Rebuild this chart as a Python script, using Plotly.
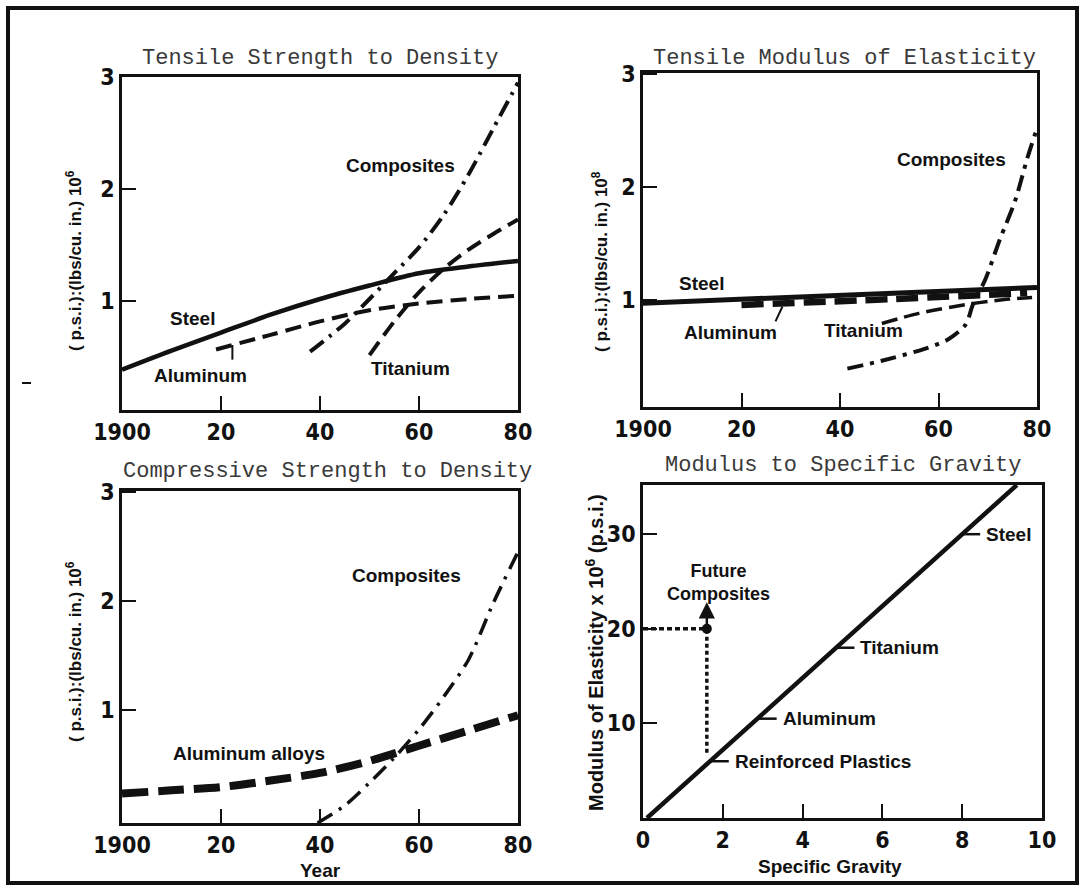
import numpy as np
import plotly.graph_objects as go

# ---------------- data ----------------
# Tensile strength to density, (p.s.i.):(lbs/cu. in.) x 10^6
ts_steel_year = [1900, 1910, 1920, 1930, 1940, 1950, 1960, 1970, 1980]
ts_steel = [0.39, 0.56, 0.72, 0.88, 1.02, 1.14, 1.25, 1.31, 1.36]
ts_alum_year = [1919, 1930, 1940, 1950, 1960, 1970, 1980]
ts_alum = [0.57, 0.70, 0.82, 0.92, 0.98, 1.02, 1.05]
ts_comp_year = [1938, 1945, 1950, 1955, 1960, 1965, 1970, 1975, 1980]
ts_comp = [0.55, 0.80, 1.02, 1.25, 1.48, 1.77, 2.13, 2.54, 2.95]
ts_titan_year = [1950, 1955, 1960, 1965, 1970, 1975, 1980]
ts_titan = [0.52, 0.82, 1.08, 1.29, 1.46, 1.60, 1.73]

# Tensile modulus of elasticity, (p.s.i.):(lbs/cu. in.) x 10^8
tm_steel_year = [1900, 1980]
tm_steel = [0.97, 1.11]
tm_alum_year = [1920, 1950, 1978]
tm_alum = [0.955, 1.005, 1.06]
tm_titan_year = [1948.5, 1956, 1966, 1973, 1979]
tm_titan = [0.79, 0.88, 0.96, 1.00, 1.02]
tm_comp_year = [1941.5, 1948.5, 1957.5, 1962, 1965.5, 1967, 1969.5, 1972.5, 1975.5, 1978, 1980]
tm_comp = [0.39, 0.46, 0.57, 0.65, 0.78, 0.96, 1.18, 1.54, 1.87, 2.25, 2.52]

# Compressive strength to density, (p.s.i.):(lbs/cu. in.) x 10^6
cs_alloy_year = [1900, 1910, 1920, 1930, 1940, 1950, 1960, 1970, 1980]
cs_alloy = [0.23, 0.26, 0.29, 0.35, 0.42, 0.53, 0.67, 0.81, 0.95]
cs_comp_year = [1939.5, 1945, 1950, 1955, 1960, 1965, 1970, 1975, 1980]
cs_comp = [-0.04, 0.12, 0.33, 0.56, 0.82, 1.12, 1.46, 1.98, 2.45]

# Modulus (x 10^6 p.s.i.) against specific gravity
material_names = ["Reinforced Plastics", "Aluminum", "Titanium", "Steel"]
material_sg = [1.7, 2.9, 4.85, 8.0]
material_modulus = [6.0, 10.5, 18.0, 30.0]
trend_sg = [0.1, 9.37]
trend_modulus = [0.0, 35.2]
future_sg = 1.6
future_modulus = 20.0
future_base_modulus = 6.9
future_arrow_tip = 22.8

year_ticks = [1900, 1920, 1940, 1960, 1980]
year_labels = ["1900", "20", "40", "60", "80"]
sg_ticks = [0, 2, 4, 6, 8, 10]
mod_ticks = [10, 20, 30]

# ---------------- styling ----------------
W, H = 1086, 886
INK = "#111111"
TICK_FONT = "Liberation Sans Narrow, Arial Narrow, DejaVu Sans Condensed, sans-serif"
LABEL_FONT = "Liberation Sans, Arial, Helvetica, sans-serif"
TITLE_FONT = "Courier New, Liberation Mono, monospace"


def xdom(left, right):
    return [left / W, right / W]


def ydom(top, bottom):
    return [1 - bottom / H, 1 - top / H]


def axis(domain, rng, tickvals, ticktext=None, anchor=None):
    d = dict(domain=domain, range=rng, tickvals=tickvals,
             showline=True, linecolor=INK, linewidth=2.5, mirror=True,
             ticks="inside", ticklen=14, tickwidth=2, tickcolor=INK,
             showgrid=False, zeroline=False, fixedrange=True, automargin=False,
             tickfont=dict(family=TICK_FONT, size=23, color=INK, weight="bold"),
             anchor=anchor)
    if ticktext is not None:
        d["ticktext"] = ticktext
    return d


fig = go.Figure()


def line(x, y, xa, ya, width, dash="solid", spline=True):
    fig.add_trace(go.Scatter(
        x=x, y=y, xaxis=xa, yaxis=ya, mode="lines", hoverinfo="skip",
        line=dict(color=INK, width=width, dash=dash,
                  shape="spline" if spline else "linear", smoothing=0.8),
        showlegend=False))


# panel 1
line(ts_steel_year, ts_steel, "x", "y", 4.5)
line(ts_alum_year, ts_alum, "x", "y", 4, "16px,8px")
line(ts_comp_year, ts_comp, "x", "y", 4, "17px,7px,3px,7px")
line(ts_titan_year, ts_titan, "x", "y", 4, "16px,8px")
lead1 = 1922.3
v1 = float(np.interp(lead1, ts_alum_year, ts_alum))
line([lead1, lead1], [v1, v1 - 0.13], "x", "y", 2, spline=False)

# panel 2
line(tm_steel_year, tm_steel, "x2", "y2", 5, spline=False)
line(tm_alum_year, tm_alum, "x2", "y2", 6.5, "22px,9px")
line(tm_titan_year, tm_titan, "x2", "y2", 3.5, "16px,7px")
line(tm_comp_year, tm_comp, "x2", "y2", 4, "16px,7px,4px,7px")
lead2 = 1928.3
v2 = float(np.interp(lead2, tm_alum_year, tm_alum))
line([lead2, lead2 - 1.4], [v2 - 0.03, v2 - 0.16], "x2", "y2", 2, spline=False)

# panel 3
line(cs_alloy_year, cs_alloy, "x3", "y3", 8, "26px,10px")
line(cs_comp_year, cs_comp, "x3", "y3", 3.5, "17px,8px,3px,8px")

# panel 4
line(trend_sg, trend_modulus, "x4", "y4", 4.5, spline=False)
tick_x, tick_y = [], []
for sg, m in zip(material_sg, material_modulus):
    tick_x += [sg, sg + 0.45, None]
    tick_y += [m, m, None]
line(tick_x, tick_y, "x4", "y4", 2.5, spline=False)
line([0, future_sg], [future_modulus, future_modulus], "x4", "y4", 3.5, "5px,3px", spline=False)
line([future_sg, future_sg], [future_base_modulus, future_modulus], "x4", "y4", 3.5, "4px,3px", spline=False)
fig.add_trace(go.Scatter(x=[future_sg], y=[future_modulus], xaxis="x4", yaxis="y4",
                         mode="markers", marker=dict(color=INK, size=10),
                         hoverinfo="skip", showlegend=False))

fig.update_layout(
    width=W, height=H, autosize=False,
    margin=dict(l=0, r=0, t=0, b=0, pad=0),
    paper_bgcolor="white", plot_bgcolor="white",
    showlegend=False,
    xaxis=axis(xdom(122, 518), [1900, 1980], year_ticks, year_labels, "y"),
    yaxis=axis(ydom(77, 410), [0.03, 3.0], [1, 2, 3], anchor="x"),
    xaxis2=axis(xdom(643, 1037), [1900, 1980], year_ticks, year_labels, "y2"),
    yaxis2=axis(ydom(73, 407), [0.05, 3.01], [1, 2, 3], anchor="x2"),
    xaxis3=axis(xdom(122, 518), [1900, 1980], year_ticks, year_labels, "y3"),
    yaxis3=axis(ydom(491, 823), [-0.04, 3.01], [1, 2, 3], anchor="x3"),
    xaxis4=axis(xdom(643, 1042), [0, 10], sg_ticks, [str(v) for v in sg_ticks], "y4"),
    yaxis4=axis(ydom(485, 818), [0, 35.2], mod_ticks, [str(v) for v in mod_ticks], "x4"),
)

annotations = []


def note(text, x, y, size=19, font=LABEL_FONT, weight="bold", color=INK,
         angle=0, xanchor="center", xref="paper", yref="paper"):
    if xref == "paper":
        x = x / W
    if yref == "paper":
        y = 1 - y / H
    annotations.append(dict(text=text, x=x, y=y, xref=xref, yref=yref,
                            showarrow=False, textangle=angle,
                            xanchor=xanchor, yanchor="middle",
                            font=dict(family=font, size=size, color=color, weight=weight)))


# panel titles
note("Tensile Strength to Density", 320, 58, 22, TITLE_FONT, "normal", "#3a3a3a")
note("Tensile Modulus of Elasticity", 844, 58, 22, TITLE_FONT, "normal", "#3a3a3a")
note("Compressive Strength to Density", 327, 471, 22, TITLE_FONT, "normal", "#3a3a3a")
note("Modulus to Specific Gravity", 843, 466, 22, TITLE_FONT, "normal", "#3a3a3a")

# axis titles
ylab6 = "( p.s.i.):(lbs/cu. in.) 10<sup>6</sup>"
ylab8 = "( p.s.i.):(lbs/cu. in.) 10<sup>8</sup>"
note(ylab6, 74, 261, 17, angle=-90)
note(ylab8, 600, 262, 17, angle=-90)
note(ylab6, 74, 652, 17, angle=-90)
note("Modulus of Elasticity x 10<sup>6</sup> (p.s.i.)", 594, 653, 20, angle=-90)
note("Year", 320, 870, 19)
note("Specific Gravity", 830, 866, 19)

# series labels
note("Composites", 400, 165)
note("Steel", 192, 318)
note("Aluminum", 200, 375)
note("Titanium", 410, 368)

note("Composites", 951, 159)
note("Steel", 701, 283)
note("Aluminum", 730, 332)
note("Titanium", 863, 330)

note("Composites", 406, 575)
note("Aluminum alloys", 249, 753)

for name, sg, m in zip(material_names, material_sg, material_modulus):
    note(name, sg + 0.55, m, xanchor="left", xref="x4", yref="y4")
note("Future<br>Composites", 718, 582, 18)

# arrow for future composites
annotations.append(dict(x=future_sg, y=future_arrow_tip, ax=future_sg, ay=future_modulus,
                        xref="x4", yref="y4", axref="x4", ayref="y4",
                        showarrow=True, arrowhead=2, arrowsize=1.3, arrowwidth=2.5,
                        arrowcolor=INK, text=""))

fig.update_layout(annotations=annotations)

# outer frame around the whole figure
fig.add_shape(type="rect", xref="paper", yref="paper",
              x0=8 / W, x1=1077 / W, y0=1 - 883 / H, y1=1 - 8 / H,
              line=dict(color=INK, width=4))
fig.add_shape(type="line", xref="paper", yref="paper",
              x0=22 / W, x1=31 / W, y0=1 - 383 / H, y1=1 - 383 / H,
              line=dict(color=INK, width=2))

fig.write_html("out.html")
